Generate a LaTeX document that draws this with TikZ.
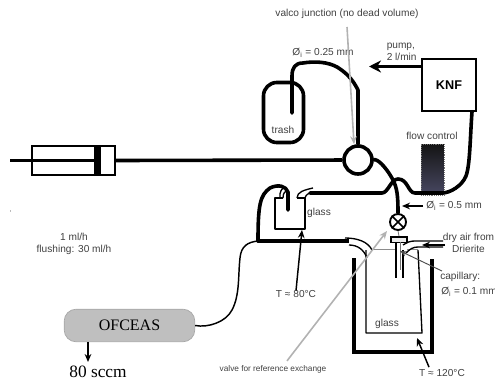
\documentclass[tikz,border=0pt]{standalone}
\usepackage{fontspec}
\setmainfont{Liberation Sans}
\newfontfamily\ofceasfont{Liberation Serif}
\usetikzlibrary{arrows.meta}
\definecolor{flowend}{RGB}{72,72,98}
\tikzset{
	lbl/.style={inner sep=0pt,font=\fontsize{7.6pt}{9pt}\selectfont,text=black!75},
	tube/.style={line width=2.7pt,line cap=round,line join=round},
	glassline/.style={line width=1pt,line join=round},
	thinarrow/.style={line width=1.1pt,-{Stealth[length=6pt,width=5pt]}},
	greyarrow/.style={line width=1.2pt,draw=black!30,-{Stealth[length=6pt,width=5pt]}},
}
\begin{document}
\begin{tikzpicture}[x=0.75pt,y=-0.75pt]
\useasboundingbox (0,0) rectangle (495,381);

\begin{scope}
	\coordinate (s0) at (10,160.5);
	\coordinate (s1) at (32,146);
	\coordinate (s2) at (115,175);
	\coordinate (s3) at (115,160.5);
	\coordinate (s4) at (94,146);
	\coordinate (s5) at (101,175);
	\coordinate (s6) at (94,160.5);
	%
	\coordinate (t0) at (292,113);
	\coordinate (k0) at (472,111);
	\coordinate (k1) at (421,66.5);
	\coordinate (k2) at (369,66.5);
	\coordinate (o0) at (88,342);
	\coordinate (o1) at (88,362);
	%
	\coordinate (g0) at (258,241);
	\coordinate (g1) at (345,241);
	\coordinate (g2) at (288,210);
	\coordinate (a0) at (445,245);
	\coordinate (a1) at (422,245);
\end{scope}

% syringe
\draw[line width=1pt] (s1) rectangle (s2);
\fill (s4) rectangle (s5);
\draw[tube,line cap=butt] (s0) -- (s6);

% nodes
\node[circle,draw,fill=white,line width=2.7pt,minimum size=21pt,inner sep=0pt] (valco) at (358,160) {};
\draw[tube,line cap=butt] (s3) -- (valco);
\node[draw,line width=1.5pt,minimum width=40pt,minimum height=38.5pt,inner sep=0pt,font=\bfseries\fontsize{9.5pt}{11pt}\selectfont] (knf) at (449,85) {KNF};
\node[draw,rounded corners=10pt,line width=2.7pt,minimum width=30pt,minimum height=45pt,inner sep=0pt] (trash) at (283.5,112.5) {};
\node[lbl] (trashlbl) at (283,130) {trash};
\node[circle,draw,fill=white,line width=1.4pt,minimum size=12pt,inner sep=0pt] (valve) at (398,222) {};
\draw[line width=1.2pt] (valve.north west) -- (valve.south east) (valve.north east) -- (valve.south west);
\node[draw,fill=black!8,line width=1pt,minimum width=12pt,minimum height=4pt,inner sep=0pt] (stopper) at (399,239.5) {};
\node[rounded corners=9pt,fill=black!25,draw=black!35,line width=0.5pt,minimum width=98pt,minimum height=24.5pt,inner sep=0pt,font=\ofceasfont\fontsize{12pt}{14pt}\selectfont] (ofceas) at (129.5,325.5) {OFCEAS};
\node[inner sep=0pt,font=\ofceasfont\fontsize{13pt}{15pt}\selectfont] (sccm) at (98,372) {80 sccm};
\node[top color=black!92,bottom color=flowend,draw=black!55,densely dotted,minimum width=17pt,minimum height=38pt,inner sep=0pt] (flow) at (432.5,169.5) {};

% tubes
\draw[tube] (t0) -- (292,76) .. controls (292,68) and (295,63) .. (303,63) .. controls (315,61) and (328,62) .. (337,67) .. controls (345,72) and (352,78) .. (358,90) -- (valco.north);
\draw[tube] (valco.east) .. controls (376,158) and (385,165) .. (393,180) .. controls (397,188) and (398,195) .. (valve.north);
\draw[tube] (knf.south -| k0) .. controls (470,140) and (470,165) .. (466,176) .. controls (462,186) and (450,193) .. (442,193) -- (415,193) .. controls (408,193) and (408,179) .. (398,179) .. controls (391,179) and (388,193) .. (382,193) -- (310,193);
\draw[tube] (g0) -- (g1);
\draw[tube] (g2) -- (288,192) .. controls (286,186) and (278,184) .. (270,188) .. controls (260,195) and (258,205) .. (258,241);
\draw[line width=1.1pt] (ofceas.east) .. controls (208,328) and (226,322) .. (232,310) .. controls (240,295) and (238,275) .. (240,258) .. controls (241,246) and (248,242) .. (g0);
\draw[line width=3.2pt] (g1) -- (349,241);

% small glass
\draw[glassline] (297,198) -- (305,198) (283,198) -- (275,198) -- (275,229) -- (305,229) -- (305,198);
\draw[line width=1pt] (280,198) .. controls (279,192) and (282,188) .. (285,187);
\draw[line width=1pt] (283,198) .. controls (283,193) and (285,191) .. (288,190);
\draw[line width=1pt] (297,198) .. controls (297,192) and (304,190) .. (313,188);
\draw[line width=1pt] (305,198) .. controls (306,194) and (309,193) .. (313,193);

% large glass
\draw[glassline] (366,250) -- (366,333) -- (422,333) -- (418,250);
\draw[line width=0.8pt,black!45] (373,249.5) -- (396,249.5);
\draw[line width=0.8pt,black!45] (407,249.5) -- (418,249.5);
\draw[line width=1pt] (345,238) .. controls (358,238) and (368,242) .. (372,250);
\draw[line width=1pt] (349,245) .. controls (358,245) and (364,250) .. (367,258);
\draw[line width=1pt] (403,245) .. controls (408,242) and (410,241) .. (415,241) -- (443,241);
\draw[line width=1pt] (406,253) .. controls (410,249) and (413,247) .. (418,247) -- (443,247);
\draw[line width=1pt] (396,242) -- (396,278) (403,250) -- (403,278);
\draw[line width=0.6pt,black!55] (400,242) -- (400,270);
\draw[line width=0.6pt,black!55] (valve.south) -- (stopper.north);

% heater
\draw[line width=2.5pt,line join=miter] (354,258) -- (354,352) -- (432,352) -- (432,259);

% arrows
\draw[line width=2.1pt,-{Stealth[length=9pt,width=9pt]}] (k1) -- (k2);
\draw[thinarrow] (o0) -- (o1);
\draw[thinarrow] (a0) -- (a1);

% labels
\node[lbl] (valcolbl) at (347,14) {valco junction (no dead volume)};
\node[lbl] (dia1) at (323,53) {Ø$_{\mathrm{i}}$ = 0.25 mm};
\node[lbl,align=left,anchor=north west] (pumplbl) at (386.5,42.5) {pump,\\2 l/min};
\node[lbl] (flowlbl) at (432,136) {flow control};
\node[lbl,anchor=west] (dia2) at (426,206) {Ø$_{\mathrm{i}}$ = 0.5 mm};
\node[lbl] (glass1) at (319,213) {glass};
\node[lbl] (glass2) at (387,324) {glass};
\node[lbl] (t80) at (296,294.5) {T ≈ 80°C};
\node[lbl] (t120) at (442,373) {T ≈ 120°C};
\node[lbl,align=center] (drylbl) at (468.5,243) {dry air from\\Drierite};
\node[lbl,anchor=west] (caplbl) at (440,277) {capillary:};
\node[lbl,anchor=west] (dia3) at (441,292) {Ø$_{\mathrm{i}}$ = 0.1 mm};
\node[lbl,align=center] (ratelbl) at (74,244) {1 ml/h\\flushing: 30 ml/h};
\node[lbl,font=\fontsize{6.2pt}{7pt}\selectfont] (valvelbl) at (273,369) {valve for reference exchange};
\node[lbl,font=\fontsize{5pt}{6pt}\selectfont] (tick) at (10.5,213) {'};

% pointers
\draw[thinarrow] (dia2.west) ++(-3,0) coordinate (d0) (d0) -- (402,206);
\draw[thinarrow] (t80.north) -- (302,230);
\draw[thinarrow] (t120.north) ++(-13,-2) coordinate (d1) (d1) -- (417,338);
\draw[line width=0.7pt,black!70,-{Stealth[length=5pt,width=4pt]}] (caplbl.north west) ++(2,-1) coordinate (d2) (d2) -- (400,251);
\draw[greyarrow] (valcolbl.south) ++(0,8) coordinate (d3) (d3) -- (valco.north -| 354,0);
\draw[greyarrow] (valvelbl.north) ++(14,-4) coordinate (d4) (d4) -- (387,231);

\end{tikzpicture}
\end{document}
